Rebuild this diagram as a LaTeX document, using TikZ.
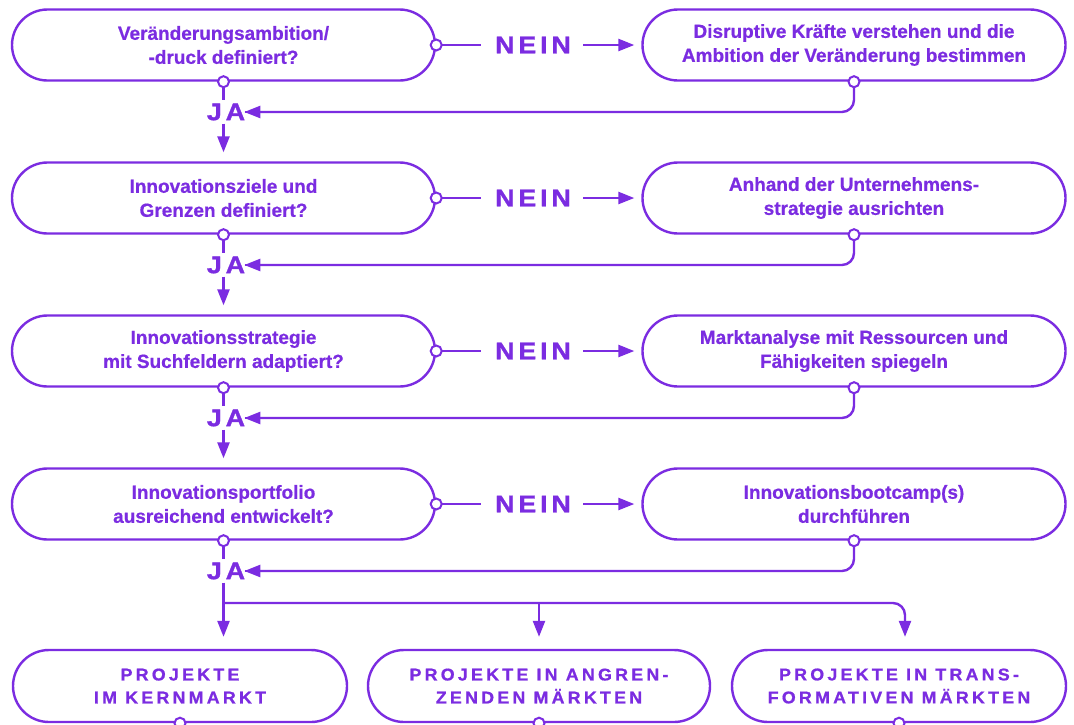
\documentclass[tikz,border=0pt]{standalone}
\usepackage{fontspec}
\setmainfont{Liberation Sans}
\newfontfamily\boxfont{Liberation Sans}[FakeBold=0.6]
\newfontfamily\capsfont{Liberation Sans}[LetterSpace=19,FakeBold=0.8,FakeStretch=1.05]
\newfontfamily\labfont{Liberation Sans}[LetterSpace=16,FakeBold=1.2,FakeStretch=1.12]
\usetikzlibrary{arrows.meta,shapes.misc}
\definecolor{pu}{RGB}{123,44,225}
\begin{document}
\begin{tikzpicture}[x=1pt,y=-1pt,
  box/.style={rounded rectangle, draw=pu, line width=2.4pt, minimum width=423pt,
    minimum height=71pt, align=center, text=pu, inner sep=0pt,
    font=\fontsize{19}{24}\selectfont\boxfont\bfseries},
  endbox/.style={rounded rectangle, draw=pu, line width=2.4pt, minimum height=72pt,
    align=center, text=pu, inner sep=0pt,
    font=\fontsize{17}{23}\selectfont\capsfont\bfseries},
  lab/.style={text=pu, inner sep=3pt, font=\fontsize{24}{24}\selectfont\labfont\bfseries},
  dot/.style={circle, draw=pu, fill=white, line width=2pt, minimum size=11pt, inner sep=0pt},
  conn/.style={draw=pu, line width=2.4pt},
  arr/.style={conn, -{Triangle[length=16pt,width=12pt]}}
]
\clip (0,0) rectangle (1074,724);
\fill[white] (0,0) rectangle (1074,724);

% rows
\foreach \i/\y/\lt/\rt in {
  1/45/{Veränderungsambition/\\-druck definiert?}/{Disruptive Kräfte verstehen und die\\Ambition der Veränderung bestimmen},
  2/198/{Innovationsziele und\\Grenzen definiert?}/{Anhand der Unternehmens-\\strategie ausrichten},
  3/351/{Innovationsstrategie\\mit Suchfeldern adaptiert?}/{Marktanalyse mit Ressourcen und\\Fähigkeiten spiegeln},
  4/504/{Innovationsportfolio\\ausreichend entwickelt?}/{Innovationsbootcamp(s)\\durchführen}}{
  \node[box] (l\i) at (223.5,\y) {\lt};
  \node[box] (r\i) at (854,\y) {\rt};
  \node[lab] (nein\i) at (533,\y) {NEIN};
  \node[lab] (ja\i) at (226,\y+67) {JA};
  \coordinate (nl\i) at (481,\y);
  \draw[conn] (l\i.east) -- (nl\i);
  \coordinate (na\i) at (583,\y);
  \draw[arr] (na\i) -- ([xshift=-7pt]r\i.west);
  \draw[conn, rounded corners=12pt] (r\i.south) |- (ja\i.east);
  \draw[arr] ([xshift=-3pt]ja\i.east) -- +(-1,0);
  \draw[conn] (l\i.south) -- (l\i.south |- ja\i.north);
  \node[dot] at (l\i.east) {};
  \node[dot] at (l\i.south) {};
  \node[dot] at (r\i.south) {};
}
\foreach \i in {1,2,3}{
  \pgfmathtruncatemacro{\n}{\i+1}
  \draw[arr, shorten >=9pt] (l\i.south |- ja\i.south) -- (l\n.north);
}

% bottom boxes
\node[endbox, minimum width=334pt] (b1) at (180,686) {PROJEKTE\\IM KERNMARKT};
\node[endbox, minimum width=342pt] (b2) at (539,686) {PROJEKTE IN ANGREN-\\ZENDEN MÄRKTEN};
\node[endbox, minimum width=334pt] (b3) at (899,686) {PROJEKTE IN TRANS-\\FORMATIVEN MÄRKTEN};
\node[dot] at (b1.south) {};
\node[dot] at (b2.south) {};
\node[dot] at (b3.south) {};

\coordinate (jb) at (l4.south |- ja4.south);
\coordinate (br) at (l4.south |- 0,603);
\draw[arr, shorten >=12pt] (jb) -- (jb |- b1.north);
\draw[arr, shorten >=12pt] (br -| b2.north) -- (b2.north);
\draw[arr, shorten >=12pt, rounded corners=12pt] (br) -| ([xshift=6pt]b3.north);
\end{tikzpicture}
\end{document}
